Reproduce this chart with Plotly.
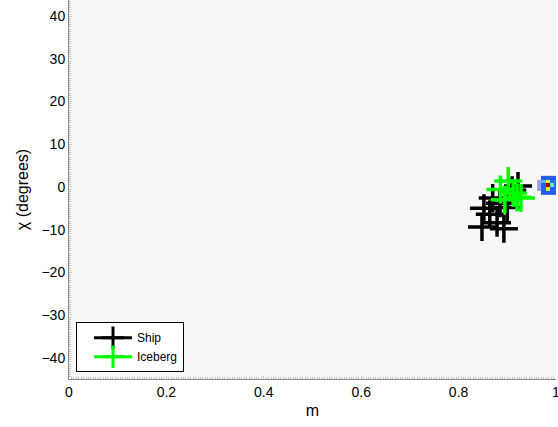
import plotly.graph_objects as go

# Ship / Iceberg samples (m, chi in degrees)
ship_m = [0.848, 0.864, 0.879, 0.852, 0.885, 0.870, 0.900, 0.910, 0.922, 0.893]
ship_chi = [-9.4, -6.4, -8.4, -5.0, -3.8, -2.6, -4.8, -0.8, 0.2, -9.8]
ice_m = [0.886, 0.902, 0.912, 0.920, 0.895, 0.928]
ice_chi = [-0.6, 1.4, -1.4, -2.4, -3.0, -2.6]

# 2-D density map near (1, 0)
hm_m = [0.9655, 0.9740, 0.9825, 0.9910, 0.9995]
hm_chi = [2.15, 1.25, 0.35, -0.55, -1.45]
hm_z = [
    [None, 0.20, 0.25, 0.20, 0.22],
    [0.03, 0.45, 0.72, 0.30, 0.32],
    [0.03, 0.25, 1.00, 0.55, 0.25],
    [0.03, 0.25, 0.70, 0.25, 0.25],
    [None, 0.20, 0.20, 0.20, 0.20],
]

x_ticks = [0, 0.2, 0.4, 0.6, 0.8, 1]
y_ticks = [-40, -30, -20, -10, 0, 10, 20, 30, 40]

FONT = "Liberation Sans, Arial, Helvetica, sans-serif"

fig = go.Figure()
fig.add_trace(go.Heatmap(
    x=hm_m, y=hm_chi, z=hm_z, zmin=0, zmax=1, showscale=False,
    colorscale=[[0, "#c9c9ef"], [0.1, "#3040d8"], [0.3, "#2070ff"],
                [0.45, "#40c0ff"], [0.56, "#70f0a0"], [0.72, "#f0f020"],
                [1.0, "#9a0000"]],
    hoverongaps=False,
))
fig.add_trace(go.Scatter(
    x=ship_m, y=ship_chi, mode="markers", name="Ship", showlegend=False,
    marker=dict(symbol="cross-thin", size=20, color="black",
                line=dict(width=3.5, color="black")),
))
fig.add_trace(go.Scatter(
    x=ice_m, y=ice_chi, mode="markers", name="Iceberg", showlegend=False,
    marker=dict(symbol="cross-thin", size=20, color="#00ff00",
                line=dict(width=3.5, color="#00ff00")),
))
# legend entries
for nm, col in [("Ship", "black"), ("Iceberg", "#00ff00")]:
    fig.add_trace(go.Scatter(
        x=[None], y=[None], mode="lines+markers", name=nm,
        line=dict(color=col, width=3),
        marker=dict(symbol="cross-thin", size=16, color=col,
                    line=dict(width=3, color=col)),
    ))

fig.update_layout(
    width=558, height=427,
    margin=dict(l=69, r=2, t=0, b=48),
    paper_bgcolor="white", plot_bgcolor="#f7f7f7",
    font=dict(family=FONT, size=14, color="black"),
    showlegend=True,
    legend=dict(x=0.0144, y=0.018, xanchor="left", yanchor="bottom",
                bgcolor="white", bordercolor="black", borderwidth=1,
                font=dict(family=FONT, size=12, color="black"),
                itemwidth=38, indentation=12, tracegroupgap=0),
)
fig.update_xaxes(
    range=[0, 1], tickvals=x_ticks, ticktext=[str(t) for t in x_ticks],
    showgrid=False, zeroline=False, showline=True, linecolor="#8a8a8a",
    linewidth=1, ticks="inside", ticklen=3, tickcolor="#c8c8c8",
    minor=dict(dtick=0.005, ticks="inside", ticklen=2, tickcolor="#c0c0c0", showgrid=False),
    title=dict(text="m", font=dict(family=FONT, size=16), standoff=6),
    tickfont=dict(family=FONT, size=14), automargin=False,
    ticklabeloverflow="allow",
)
fig.update_yaxes(
    range=[-45, 43.8], tickvals=y_ticks,
    ticktext=[("\u2212" + str(-t)) if t < 0 else str(t) for t in y_ticks],
    showgrid=False, zeroline=False, showline=True, linecolor="#8a8a8a",
    linewidth=1, ticks="inside", ticklen=3, tickcolor="#c8c8c8",
    minor=dict(dtick=0.5, ticks="inside", ticklen=2, tickcolor="#c0c0c0", showgrid=False),
    title=dict(text="\u03c7 (degrees)", font=dict(family=FONT, size=16), standoff=8),
    tickfont=dict(family=FONT, size=14), automargin=False,
    ticklabeloverflow="allow",
)

fig.write_html("out.html", config={"displayModeBar": False},
               post_script="document.body.style.margin='0';")
